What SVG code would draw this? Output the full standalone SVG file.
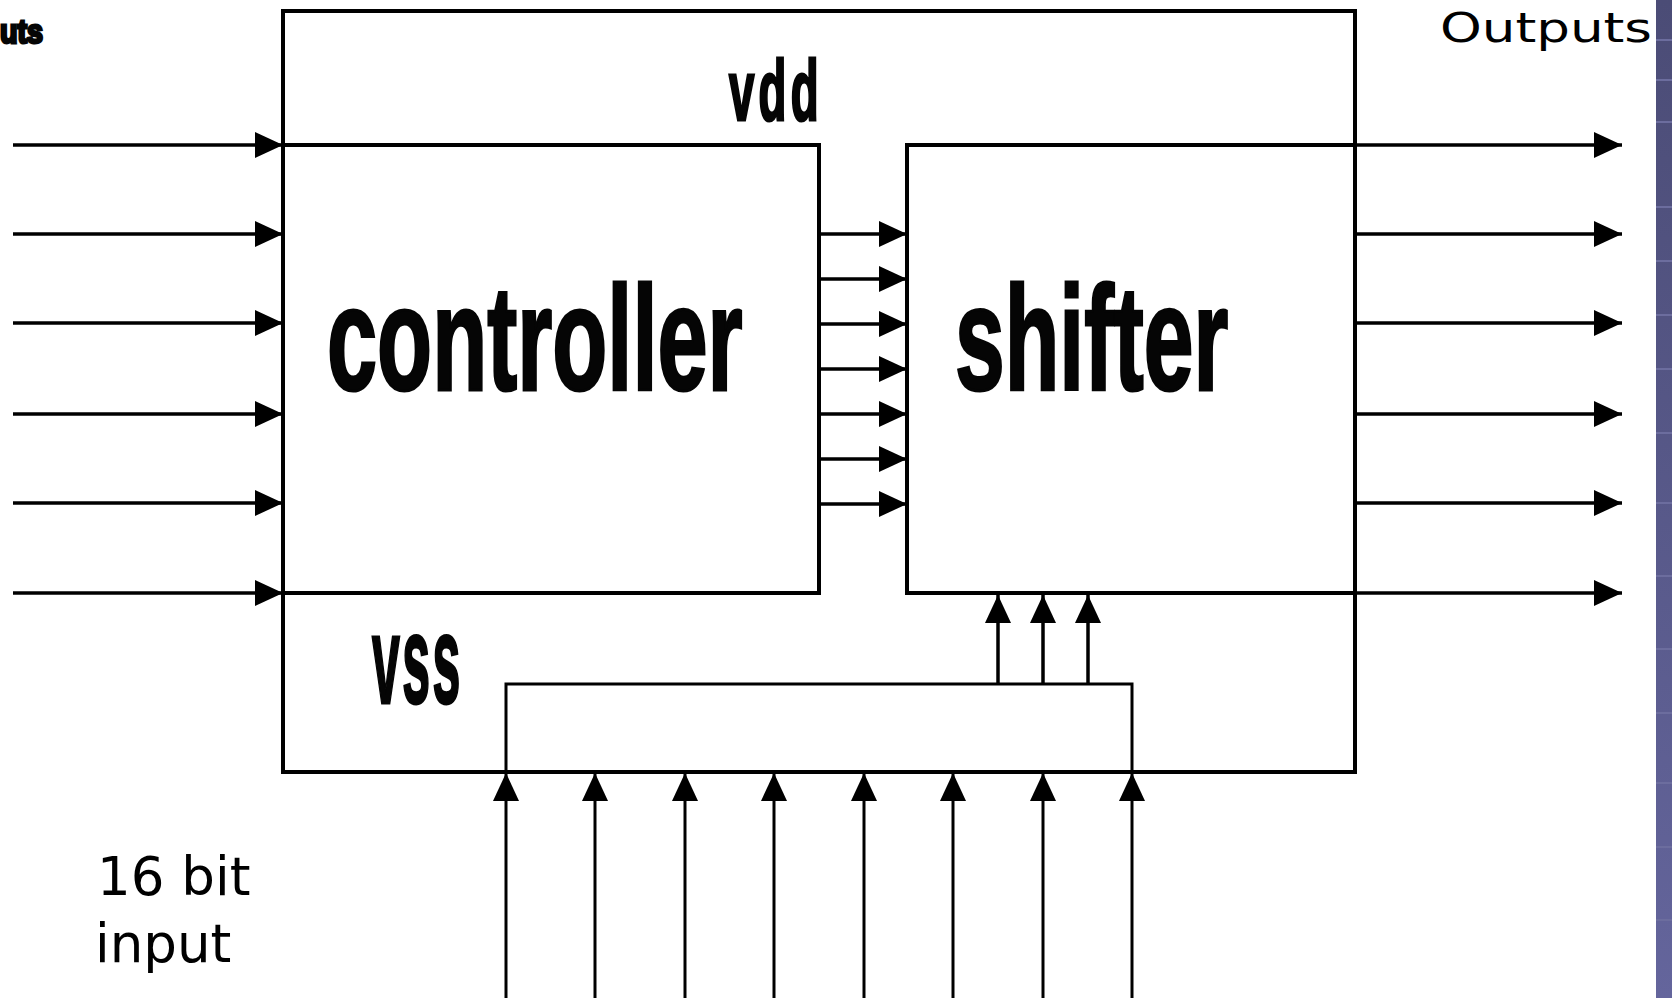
<svg xmlns="http://www.w3.org/2000/svg" width="1672" height="998" viewBox="0 0 1672 998">
<style>
.box{fill:none;stroke:#000;stroke-width:4}
.wire{stroke:#000;stroke-width:3.5;fill:none}
.thin{stroke:#000;stroke-width:3;fill:none}
.big{font-family:"Liberation Sans",Arial,sans-serif;font-weight:bold;fill:#050505;stroke:#050505;stroke-width:3}
.lbl{font-family:"DejaVu Sans","Liberation Sans",sans-serif;fill:#000}
.band{stroke:#6c6d9e;stroke-width:2}
</style>
<defs>
<marker id="ah" markerUnits="userSpaceOnUse" markerWidth="30" markerHeight="28" refX="28" refY="13" orient="auto">
<path d="M0,0 L28,13 L0,26 z" fill="#000"/>
</marker>
<linearGradient id="bg" x1="0" y1="0" x2="0" y2="1">
<stop offset="0" stop-color="#4b4c76"/>
<stop offset="1" stop-color="#64659c"/>
</linearGradient>
</defs>
<rect x="0" y="0" width="1672" height="998" fill="#fff"/>
<g id="backdrop">
<rect x="1656" y="0" width="16" height="998" fill="url(#bg)"/>
<line class="band" x1="1656" y1="40" x2="1672" y2="40"/>
<line class="band" x1="1656" y1="80" x2="1672" y2="80"/>
<line class="band" x1="1656" y1="122" x2="1672" y2="122"/>
<line class="band" x1="1656" y1="207" x2="1672" y2="207"/>
<line class="band" x1="1656" y1="261" x2="1672" y2="261"/>
<line class="band" x1="1656" y1="315" x2="1672" y2="315"/>
<line class="band" x1="1656" y1="369" x2="1672" y2="369"/>
<line class="band" x1="1656" y1="433" x2="1672" y2="433"/>
<line class="band" x1="1656" y1="503" x2="1672" y2="503"/>
<line class="band" x1="1656" y1="576" x2="1672" y2="576"/>
<line class="band" x1="1656" y1="649" x2="1672" y2="649"/>
<line class="band" x1="1656" y1="713" x2="1672" y2="713"/>
<line class="band" x1="1656" y1="783" x2="1672" y2="783"/>
<line class="band" x1="1656" y1="847" x2="1672" y2="847"/>
<line class="band" x1="1656" y1="920" x2="1672" y2="920"/>
</g>
<g id="chip">
<rect class="box" x="283" y="11" width="1072" height="761"/>
<text class="big" transform="translate(729,120) scale(0.53,1)" font-size="86" letter-spacing="8">vdd</text>
<text class="big" transform="translate(372,703) scale(0.40,1)" font-size="125" letter-spacing="6">vss</text>
</g>
<g id="controller">
<rect class="box" x="283" y="145" width="536" height="448"/>
<text class="big" transform="translate(327,390) scale(0.609,1)" font-size="148">controller</text>
</g>
<g id="shifter">
<rect class="box" x="907" y="145" width="448" height="448"/>
<text class="big" transform="translate(955,390) scale(0.604,1)" font-size="148">shifter</text>
</g>
<g id="bus">
<rect class="thin" x="506" y="684" width="626" height="88"/>
</g>
<g id="labels">
<text class="big" transform="translate(0,43) scale(0.87,1)" font-size="33" stroke-width="1">uts</text>
<text class="lbl" x="1440" y="42" font-size="40" textLength="212" lengthAdjust="spacingAndGlyphs">Outputs</text>
<text class="lbl" x="97" y="895" font-size="53">16 bit</text>
<text class="lbl" x="95" y="962" font-size="53">input</text>
</g>
<g id="connectors">
<line class="wire" x1="13" y1="145" x2="283" y2="145" marker-end="url(#ah)"/>
<line class="wire" x1="13" y1="234" x2="283" y2="234" marker-end="url(#ah)"/>
<line class="wire" x1="13" y1="323" x2="283" y2="323" marker-end="url(#ah)"/>
<line class="wire" x1="13" y1="414" x2="283" y2="414" marker-end="url(#ah)"/>
<line class="wire" x1="13" y1="503" x2="283" y2="503" marker-end="url(#ah)"/>
<line class="wire" x1="13" y1="593" x2="283" y2="593" marker-end="url(#ah)"/>
<line class="wire" x1="1355" y1="145" x2="1622" y2="145" marker-end="url(#ah)"/>
<line class="wire" x1="1355" y1="234" x2="1622" y2="234" marker-end="url(#ah)"/>
<line class="wire" x1="1355" y1="323" x2="1622" y2="323" marker-end="url(#ah)"/>
<line class="wire" x1="1355" y1="414" x2="1622" y2="414" marker-end="url(#ah)"/>
<line class="wire" x1="1355" y1="503" x2="1622" y2="503" marker-end="url(#ah)"/>
<line class="wire" x1="1355" y1="593" x2="1622" y2="593" marker-end="url(#ah)"/>
<line class="wire" x1="819" y1="234" x2="907" y2="234" marker-end="url(#ah)"/>
<line class="wire" x1="819" y1="279" x2="907" y2="279" marker-end="url(#ah)"/>
<line class="wire" x1="819" y1="324" x2="907" y2="324" marker-end="url(#ah)"/>
<line class="wire" x1="819" y1="369" x2="907" y2="369" marker-end="url(#ah)"/>
<line class="wire" x1="819" y1="414" x2="907" y2="414" marker-end="url(#ah)"/>
<line class="wire" x1="819" y1="459" x2="907" y2="459" marker-end="url(#ah)"/>
<line class="wire" x1="819" y1="504" x2="907" y2="504" marker-end="url(#ah)"/>
<line class="wire" x1="998" y1="684" x2="998" y2="595" marker-end="url(#ah)"/>
<line class="wire" x1="1043" y1="684" x2="1043" y2="595" marker-end="url(#ah)"/>
<line class="wire" x1="1088" y1="684" x2="1088" y2="595" marker-end="url(#ah)"/>
<line class="thin" x1="506" y1="998" x2="506" y2="773" marker-end="url(#ah)"/>
<line class="thin" x1="595" y1="998" x2="595" y2="773" marker-end="url(#ah)"/>
<line class="thin" x1="685" y1="998" x2="685" y2="773" marker-end="url(#ah)"/>
<line class="thin" x1="774" y1="998" x2="774" y2="773" marker-end="url(#ah)"/>
<line class="thin" x1="864" y1="998" x2="864" y2="773" marker-end="url(#ah)"/>
<line class="thin" x1="953" y1="998" x2="953" y2="773" marker-end="url(#ah)"/>
<line class="thin" x1="1043" y1="998" x2="1043" y2="773" marker-end="url(#ah)"/>
<line class="thin" x1="1132" y1="998" x2="1132" y2="773" marker-end="url(#ah)"/>
</g>
</svg>
